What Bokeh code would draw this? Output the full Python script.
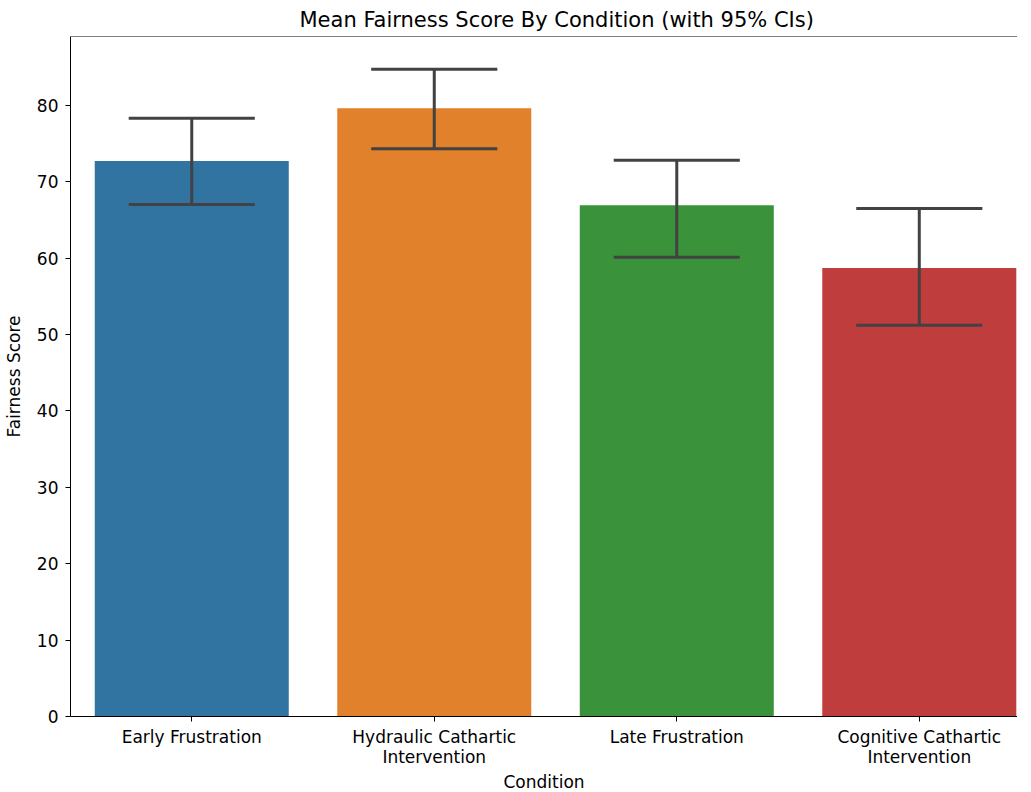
from bokeh.plotting import figure
from bokeh.models import Range1d, FixedTicker, Span
from bokeh.embed import file_html
from bokeh.resources import INLINE
import numpy as np

categories = ["Early Frustration", "Hydraulic Cathartic Intervention",
              "Late Frustration", "Cognitive Cathartic Intervention"]
tick_labels = ["Early Frustration", "Hydraulic Cathartic\nIntervention",
               "Late Frustration", "Cognitive Cathartic\nIntervention"]
means = [72.7, 79.6, 66.9, 58.7]
ci_low = [67.0, 74.3, 60.1, 51.2]
ci_high = [78.3, 84.7, 72.8, 66.5]
colors = ["#3274a1", "#e1812c", "#3a923a", "#c03d3e"]

x = np.arange(len(categories))
FONT = "DejaVu Sans"

p = figure(frame_width=947, frame_height=680,
           output_backend="svg", toolbar_location=None,
           x_range=Range1d(-0.5, 3.405), y_range=Range1d(0, 89.0),
           title="Mean Fairness Score By Condition (with 95% CIs)",
           min_border_left=0, min_border_right=0, min_border_top=0,
           min_border_bottom=0)

p.title.align = "left"
p.title.offset = 229
p.title.text_font = FONT
p.title.text_font_size = "21px"
p.title.text_font_style = "normal"
p.title.text_color = "#000000"
p.title.standoff = 10

p.vbar(x=x, top=means, width=0.8, bottom=0, fill_color=colors, line_color=None)

cap = 0.26
p.segment(x0=x, x1=x, y0=ci_low, y1=ci_high, line_color="#424242", line_width=3)
p.segment(x0=x - cap, x1=x + cap, y0=ci_low, y1=ci_low, line_color="#424242", line_width=3)
p.segment(x0=x - cap, x1=x + cap, y0=ci_high, y1=ci_high, line_color="#424242", line_width=3)

p.xgrid.visible = False
p.ygrid.visible = False
p.outline_line_color = None
p.add_layout(Span(location=89.0, dimension="width", line_color="#000000", line_width=1))

p.xaxis.ticker = FixedTicker(ticks=list(x))
p.xaxis.major_label_overrides = {int(i): lab for i, lab in zip(x, tick_labels)}
p.yaxis.ticker = FixedTicker(ticks=list(range(0, 90, 10)))

for ax in (p.xaxis, p.yaxis):
    ax.axis_line_color = "#000000"
    ax.axis_line_width = 1
    ax.major_tick_line_color = "#000000"
    ax.major_tick_out = 5
    ax.major_tick_in = 0
    ax.minor_tick_line_color = None
    ax.major_label_text_font = FONT
    ax.major_label_text_font_size = "17px"
    ax.major_label_text_color = "#000000"
    ax.axis_label_text_font = FONT
    ax.axis_label_text_font_size = "17px"
    ax.axis_label_text_font_style = "normal"
    ax.axis_label_text_color = "#000000"

p.xaxis.major_label_text_line_height = 1.0
p.xaxis.axis_label = "Condition"
p.yaxis.axis_label = "Fairness Score"
p.xaxis.major_label_standoff = 5
p.xaxis.axis_label_standoff = 2
p.yaxis.major_label_standoff = 7
p.yaxis.axis_label_standoff = 10

open("out.html", "w").write(file_html(p, INLINE))
